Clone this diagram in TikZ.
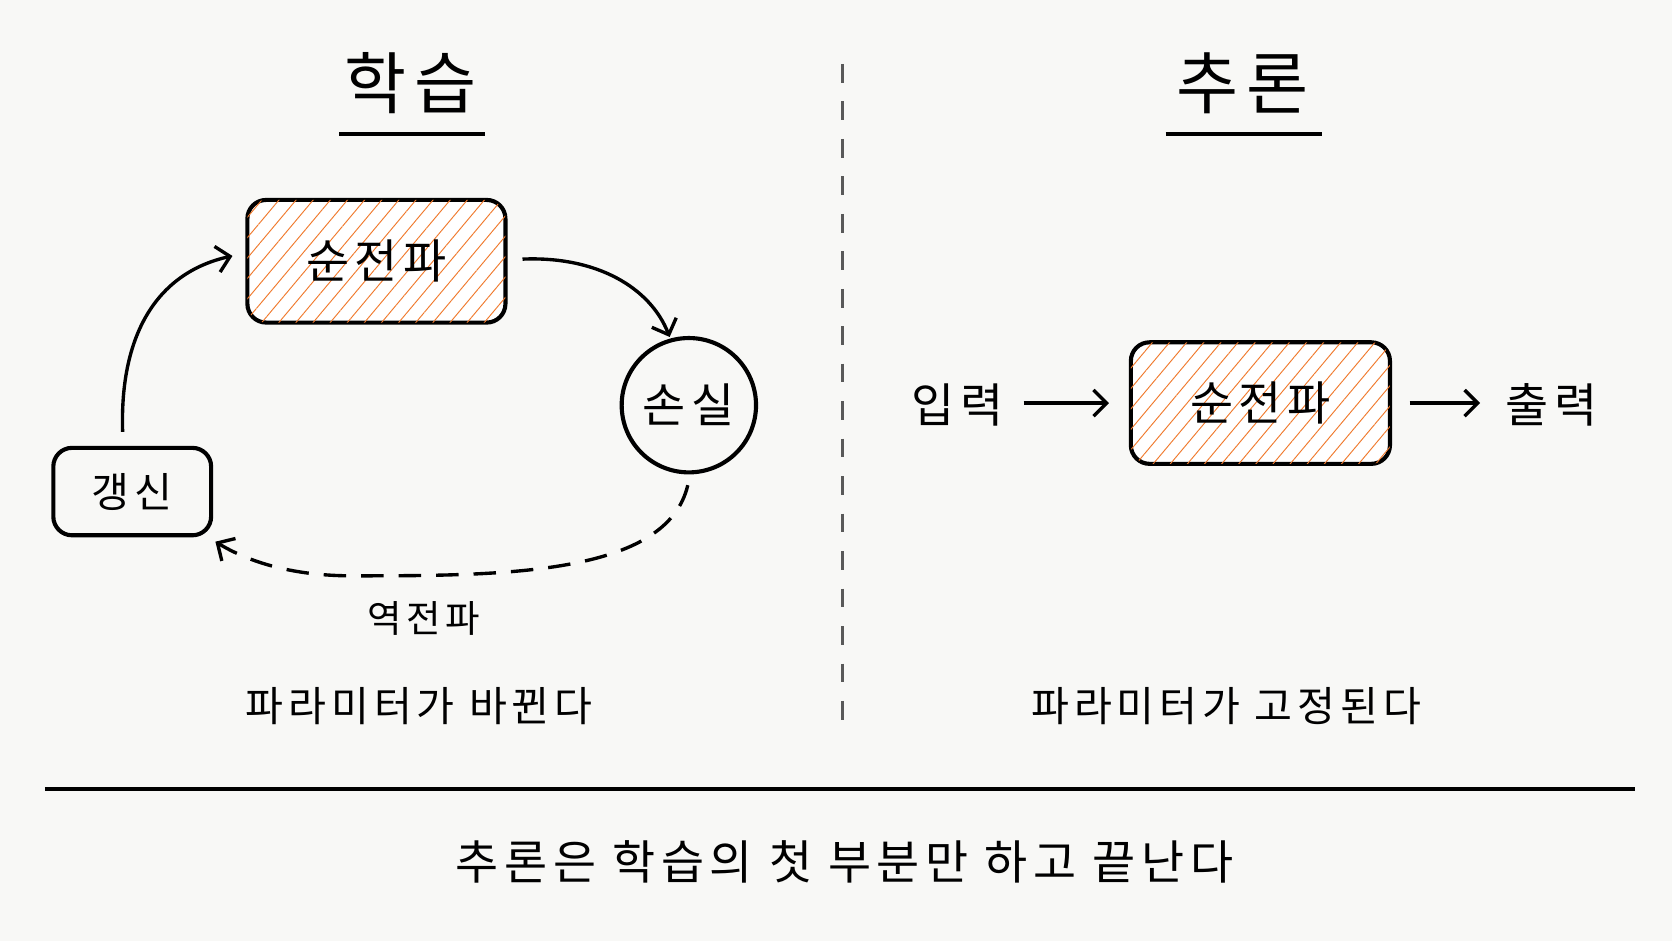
\documentclass[tikz,border=0pt]{standalone}
\usepackage{fontspec}
\setmainfont{Noto Sans CJK KR}[LetterSpace=12]
\usetikzlibrary{patterns.meta,arrows.meta}
\definecolor{bg}{HTML}{F8F8F6}
\definecolor{hatch}{HTML}{F07A2E}
\begin{document}
\begin{tikzpicture}[x=0.02cm,y=-0.02cm,
  line width=1.4pt,
  box/.style={draw,rounded corners=10pt,line width=2.2pt},
  hatched/.style={box,fill=white,postaction={pattern={Lines[angle=50,distance=7pt,line width=0.5pt]},pattern color=hatch}},
  arr/.style={-{Straight Barb[length=7pt,width=14pt,line width=1.8pt]},line width=1.8pt},
  lbl/.style={font=\fontsize{22}{26}\selectfont},
  big/.style={font=\fontsize{25}{30}\selectfont},
  ttl/.style={font=\fontsize{36}{40}\selectfont}]
\fill[bg] (0,0) rectangle (1568,882);
\useasboundingbox (0,0) rectangle (1568,882);
\node[ttl] (t1) at (385,78) {학습};
\draw[line width=2pt] (318,126) -- (455,126);
\node[ttl] (t2) at (1165,78) {추론};
\draw[line width=2pt] (1093,126) -- (1240,126);
\draw[dash pattern=on 10pt off 10pt,line width=1.6pt,gray!70!black] (790,60) -- (790,675);
% left
\node[hatched,minimum width=242*0.02cm,minimum height=115*0.02cm,big] (fw) at (353,245) {순전파};
\node[draw,circle,line width=2.2pt,minimum size=126*0.02cm,big] (loss) at (646,380) {손실};
\node[box,minimum width=148*0.02cm,minimum height=82*0.02cm,lbl] (up) at (124,461) {갱신};
\coordinate (a1s) at (115,405); \coordinate (a1e) at (218,240);
\coordinate (a2s) at (490,243); \coordinate (a2e) at (628,316);
\coordinate (a3s) at (645,455); \coordinate (a3e) at (202,508);
\draw[arr] (a1s) .. controls (112,310) and (150,255) .. (a1e);
\draw[arr] (a2s) .. controls (560,240) and (610,270) .. (a2e);
\draw[arr,dash pattern=on 12pt off 8pt] (a3s) .. controls (625,540) and (470,540) .. (330,540) .. controls (270,540) and (230,525) .. (a3e);
\node[font=\fontsize{20}{23}\selectfont] (bp) at (397,580) {역전파};
\node[lbl] (c1) at (393,662) {파라미터가 바뀐다};
% right
\node[big] (in) at (898,380) {입력};
\node[hatched,minimum width=243*0.02cm,minimum height=114*0.02cm,big] (fw2) at (1182,378) {순전파};
\node[big] (out) at (1455,380) {출력};
\coordinate (b1s) at (960,378); \coordinate (b1e) at (1040,378);
\coordinate (b2s) at (1322,378); \coordinate (b2e) at (1388,378);
\draw[arr] (b1s) -- (b1e);
\draw[arr] (b2s) -- (b2e);
\node[lbl] (c2) at (1150,662) {파라미터가 고정된다};
\draw[line width=2pt] (42,740) -- (1533,740);
\node[big] (bt) at (792,808) {추론은 학습의 첫 부분만 하고 끝난다};
\end{tikzpicture}
\end{document}
